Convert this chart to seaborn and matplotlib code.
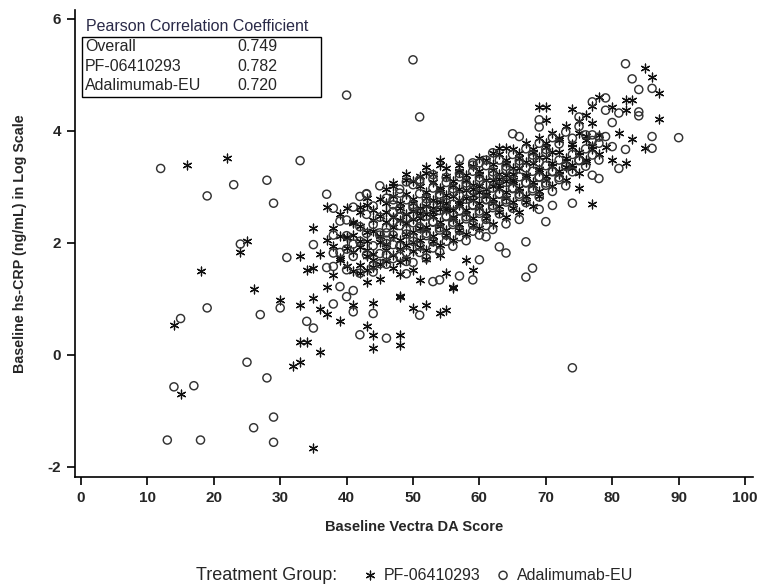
import pandas as pd
import matplotlib.pyplot as plt
import seaborn as sns

# Baseline Vectra DA score vs baseline hs-CRP (log scale)
pf_points = [
    (14, 0.54), (15, -0.70), (16, 3.39), (18, 1.50), (22, 3.52), (24, 1.83), (25, 2.04),
    (26, 1.18), (30, 0.98), (32, -0.20), (33, -0.12), (33, 0.23), (33, 0.90), (33, 1.77),
    (34, 0.23), (34, 1.52), (35, -1.66), (35, 1.01), (35, 1.55), (35, 2.26), (36, 0.05),
    (36, 0.82), (36, 1.80), (37, 0.73), (37, 1.22), (37, 2.05), (37, 2.65), (39, 0.61),
    (39, 1.73), (40, 2.11), (41, 0.89), (41, 2.38), (42, 1.46), (42, 2.65), (43, 0.51),
    (43, 1.30), (43, 2.80), (44, 0.12), (44, 0.35), (44, 0.93), (48, 0.18), (48, 0.36),
    (48, 1.04), (48, 1.05), (50, 0.84), (51, 1.34), (52, 0.89), (54, 0.74), (55, 0.81),
    (55, 1.46), (56, 1.20), (56, 1.21), (58, 1.70), (59, 1.52),
    (47, 3.07), (49, 3.13), (52, 3.25), (52, 3.36), (54, 3.39), (54, 3.48), (57, 3.27),
    (62, 3.60), (63, 3.69), (64, 3.69), (69, 4.43), (70, 4.43), (70, 4.20), (73, 3.36),
    (74, 4.40), (75, 4.17), (75, 3.25), (75, 2.98), (76, 4.29), (76, 3.45), (77, 4.45),
    (77, 2.70), (78, 4.60), (79, 3.72), (80, 4.43), (80, 3.48), (81, 3.96), (82, 4.55),
    (82, 4.37), (82, 3.43), (83, 4.55), (83, 3.85), (85, 5.12), (85, 3.70), (86, 4.96),
    (87, 4.67), (87, 4.21),
    (38, 1.95), (38, 2.27), (38, 1.42), (39, 2.12), (39, 1.69), (39, 2.51),
    (40, 2.08), (40, 1.58), (40, 1.91), (40, 2.63), (41, 2.36), (41, 1.83), (41, 2.14), (41, 1.49),
    (42, 2.03), (42, 1.92), (42, 2.55), (42, 1.61), (42, 2.31),
    (43, 1.87), (43, 1.76), (43, 2.67), (43, 2.19), (43, 1.51), (43, 2.04),
    (44, 2.22), (44, 1.81), (44, 2.59), (44, 1.70), (44, 2.41), (44, 1.57),
    (45, 2.13), (45, 2.01), (45, 2.78), (45, 2.49), (45, 1.63), (45, 1.36),
    (46, 2.37), (46, 1.98), (46, 2.71), (46, 1.88), (46, 2.55), (46, 1.68), (46, 2.97),
    (47, 2.29), (47, 2.12), (47, 2.47), (47, 1.79), (47, 2.83), (47, 1.55), (47, 3.02),
    (48, 2.41), (48, 2.06), (48, 1.89), (48, 2.71), (48, 2.63), (48, 1.66), (48, 1.44),
    (49, 2.51), (49, 2.16), (49, 1.97), (49, 2.88), (49, 2.35), (49, 1.72), (49, 3.24),
    (50, 2.57), (50, 2.19), (50, 2.01), (50, 2.79), (50, 2.72), (50, 1.85), (50, 2.43), (50, 1.52), (50, 3.11),
    (51, 2.44), (51, 2.26), (51, 2.05), (51, 3.01), (51, 2.62), (51, 1.92), (51, 2.53), (51, 3.19),
    (52, 2.66), (52, 2.29), (52, 2.23), (52, 2.91), (52, 2.81), (52, 1.87), (52, 2.51), (52, 1.71),
    (53, 2.55), (53, 2.48), (53, 2.12), (53, 3.09), (53, 2.76), (53, 2.03), (53, 2.62), (53, 3.24),
    (54, 2.73), (54, 2.38), (54, 2.31), (54, 2.98), (54, 2.94), (54, 1.96), (54, 2.61), (54, 1.79),
    (55, 2.62), (55, 2.58), (55, 2.24), (55, 3.19), (55, 2.86), (55, 2.14), (55, 2.71), (55, 3.33),
    (56, 2.84), (56, 2.47), (56, 2.42), (56, 3.11), (56, 3.03), (56, 2.05), (56, 2.59),
    (57, 2.72), (57, 2.68), (57, 2.33), (57, 3.29), (57, 2.96), (57, 2.24), (57, 2.77), (57, 3.39),
    (58, 2.94), (58, 2.59), (58, 2.52), (58, 3.21), (58, 3.12), (58, 2.16), (58, 2.81),
    (59, 2.86), (59, 2.77), (59, 2.44), (59, 3.37), (59, 3.04), (59, 2.32), (59, 2.96),
    (60, 3.02), (60, 2.71), (60, 2.63), (60, 3.29), (60, 3.24), (60, 2.26), (60, 2.91), (60, 3.52),
    (61, 2.97), (61, 2.87), (61, 2.53), (61, 3.48), (61, 3.13), (61, 2.44), (61, 2.83),
    (62, 3.13), (62, 2.79), (62, 2.72), (62, 3.41), (62, 3.31), (62, 2.34), (62, 3.01),
    (63, 3.04), (63, 2.98), (63, 2.66), (63, 3.58), (63, 3.23), (63, 2.55), (63, 3.14),
    (64, 3.22), (64, 2.91), (64, 2.81), (64, 3.49), (64, 3.43), (64, 2.46), (64, 3.11),
    (65, 3.13), (65, 3.08), (65, 2.74), (65, 3.67), (65, 3.33), (65, 2.63), (65, 3.24),
    (66, 3.33), (66, 2.99), (66, 2.93), (66, 3.61), (66, 3.52), (66, 2.55),
    (67, 3.22), (67, 3.18), (67, 2.84), (67, 3.78), (67, 3.45), (67, 2.73),
    (68, 3.43), (68, 3.09), (68, 3.03), (68, 3.68), (68, 3.63), (68, 2.66),
    (69, 3.32), (69, 3.28), (69, 2.93), (69, 3.88), (69, 3.53), (69, 2.84),
    (70, 3.53), (70, 3.19), (70, 3.13), (70, 3.79), (70, 3.72),
    (71, 3.43), (71, 3.38), (71, 3.02), (71, 3.97), (71, 3.62),
    (72, 3.62), (72, 3.29), (72, 3.23), (72, 3.88), (72, 3.83),
    (73, 3.52), (73, 3.47), (73, 3.12), (73, 4.08), (74, 3.72), (74, 3.39), (74, 3.33), (74, 3.76),
    (75, 3.63), (75, 3.57), (75, 3.96), (76, 3.83), (76, 3.49), (76, 3.91),
    (77, 3.73), (77, 3.68), (77, 4.14), (78, 3.93), (78, 3.58),
]

ada_points = [
    (12, 3.33), (13, -1.52), (14, -0.57), (15, 0.65), (17, -0.55), (18, -1.52), (19, 2.84),
    (19, 0.84), (23, 3.04), (24, 1.98), (25, -0.13), (26, -1.30), (27, 0.72), (28, 3.12),
    (28, -0.41), (29, 2.71), (29, -1.11), (29, -1.56), (30, 0.84), (31, 1.74), (33, 3.47),
    (34, 0.60), (35, 0.48), (35, 1.97), (37, 2.87), (37, 1.56), (38, 0.91), (38, 1.82),
    (38, 2.62), (39, 1.22), (40, 1.04), (40, 2.41), (40, 4.64), (41, 1.15), (41, 0.77),
    (42, 0.36), (43, 2.87), (44, 0.74), (46, 0.30), (50, 5.27), (51, 4.25), (51, 0.71),
    (74, -0.23), (49, 1.45), (53, 1.31), (54, 1.34), (57, 1.41), (59, 1.34), (60, 1.70),
    (61, 2.11), (63, 1.93), (64, 1.82), (67, 2.02), (67, 1.39), (68, 1.55), (69, 2.60),
    (70, 2.38), (71, 2.67), (74, 2.71), (77, 3.21), (78, 3.15), (78, 3.48), (81, 3.33),
    (46, 2.80), (47, 2.77), (48, 2.89), (49, 3.09), (51, 3.09), (53, 3.14), (47, 2.56),
    (45, 2.18), (46, 2.05), (46, 1.79), (57, 3.50), (59, 3.43), (60, 3.43), (61, 3.48),
    (65, 3.95), (66, 3.90), (69, 4.20), (69, 4.07), (75, 4.25), (77, 4.52), (77, 3.93),
    (79, 4.59), (79, 4.37), (79, 3.90), (80, 4.15), (80, 3.72), (81, 4.32), (82, 5.20),
    (82, 3.67), (83, 4.93), (84, 4.74), (84, 4.34), (84, 4.27), (86, 4.76), (86, 3.90),
    (86, 3.69), (90, 3.88),
    (38, 2.14), (38, 1.58), (39, 1.83), (39, 2.39), (40, 1.89), (40, 2.13), (40, 1.52),
    (41, 1.98), (41, 1.76), (41, 2.64), (42, 2.03), (42, 2.29), (42, 1.46), (42, 2.83),
    (43, 2.17), (43, 1.79), (43, 2.51), (43, 2.88), (44, 1.95), (44, 2.33), (44, 1.59), (44, 2.66), (44, 1.48),
    (45, 2.14), (45, 2.46), (45, 1.81), (45, 3.02), (45, 1.63),
    (46, 2.18), (46, 2.27), (46, 1.99), (46, 1.62), (47, 2.14), (47, 1.97), (47, 2.68), (47, 2.38), (47, 1.72),
    (48, 2.31), (48, 1.94), (48, 2.61), (48, 2.46), (48, 1.76), (48, 2.96),
    (49, 2.24), (49, 2.16), (49, 2.77), (49, 1.83), (49, 2.45), (49, 1.67),
    (50, 2.36), (50, 2.09), (50, 2.68), (50, 2.03), (50, 2.63), (50, 3.04), (50, 1.65),
    (51, 2.29), (51, 2.26), (51, 2.88), (51, 1.94), (51, 2.54), (51, 1.83), (51, 3.13),
    (52, 2.48), (52, 2.17), (52, 2.79), (52, 2.13), (52, 2.71), (52, 1.73),
    (53, 2.37), (53, 2.38), (53, 2.98), (53, 2.02), (53, 2.66), (53, 1.91), (53, 3.22),
    (54, 2.58), (54, 2.27), (54, 2.87), (54, 2.23), (54, 2.83), (54, 1.84),
    (55, 2.47), (55, 2.48), (55, 3.08), (55, 2.14), (55, 2.72), (55, 2.03), (55, 3.17),
    (56, 2.69), (56, 2.37), (56, 2.97), (56, 2.33), (56, 2.91), (56, 1.94),
    (57, 2.57), (57, 2.58), (57, 3.18), (57, 2.22), (57, 2.84), (57, 2.11), (57, 3.24),
    (58, 2.78), (58, 2.47), (58, 3.07), (58, 2.43), (58, 3.01), (58, 2.04),
    (59, 2.67), (59, 2.68), (59, 3.28), (59, 2.32), (59, 2.94), (59, 2.21), (59, 3.39),
    (60, 2.88), (60, 2.57), (60, 3.17), (60, 2.53), (60, 3.11), (60, 2.14),
    (61, 2.77), (61, 2.78), (61, 3.38), (61, 2.42), (61, 3.04), (61, 2.31),
    (62, 2.98), (62, 2.67), (62, 3.27), (62, 2.63), (62, 3.21), (62, 2.24), (62, 3.61),
    (63, 2.87), (63, 2.88), (63, 3.48), (63, 2.52), (63, 3.14),
    (64, 3.08), (64, 2.77), (64, 3.37), (64, 2.73), (64, 3.31), (64, 2.34),
    (65, 2.97), (65, 2.98), (65, 3.58), (65, 2.62), (65, 3.24),
    (66, 3.18), (66, 2.87), (66, 3.47), (66, 2.83), (66, 3.41), (66, 2.42),
    (67, 3.07), (67, 3.08), (67, 3.68), (67, 2.72), (67, 3.34),
    (68, 3.28), (68, 2.97), (68, 3.57), (68, 2.93), (68, 3.51),
    (69, 3.17), (69, 3.18), (69, 3.78), (69, 2.82), (69, 3.44),
    (70, 3.38), (70, 3.07), (70, 3.67), (70, 3.03), (70, 3.61),
    (71, 3.27), (71, 3.28), (71, 3.88), (71, 2.92), (72, 3.48), (72, 3.17), (72, 3.77), (72, 3.13),
    (73, 3.37), (73, 3.38), (73, 3.98), (73, 3.02), (74, 3.58), (74, 3.27), (74, 3.87),
    (75, 3.47), (75, 3.48), (75, 4.08), (76, 3.68), (76, 3.37), (76, 3.93),
    (77, 3.57), (77, 3.83), (78, 3.78), (78, 3.89),
]

groups = ['PF-06410293', 'Adalimumab-EU']
corr_labels = ['Overall', 'PF-06410293', 'Adalimumab-EU']
corr_values = ['0.749', '0.782', '0.720']
x_ticks = [0, 10, 20, 30, 40, 50, 60, 70, 80, 90, 100]
y_ticks = [-2, 0, 2, 4, 6]

pf_df = pd.DataFrame(pf_points, columns=['score', 'crp'])
ada_df = pd.DataFrame(ada_points, columns=['score', 'crp'])

sns.set_style('white')
plt.rcParams['font.family'] = ['Liberation Sans', 'DejaVu Sans']
plt.rcParams['axes.unicode_minus'] = False

fig = plt.figure(figsize=(7.61, 5.85), dpi=100)
ax = fig.add_axes([75 / 761, 108 / 585, 678 / 761, 467 / 585])

sns.scatterplot(data=pf_df, x='score', y='crp', ax=ax, marker=(6, 2, 0), s=40,
                color='#111111', linewidth=0.9, label=groups[0])
sns.scatterplot(data=ada_df, x='score', y='crp', ax=ax, marker='o', s=34,
                facecolor='none', edgecolor='#333333', linewidth=1.05, label=groups[1])

ax.set_xlim(-0.9, 101.2)
ax.set_ylim(-2.18, 6.16)
ax.set_xticks(x_ticks)
ax.set_yticks(y_ticks)
ax.tick_params(axis='both', direction='out', length=6, width=1.2, labelsize=11,
               left=True, bottom=True, color='black', pad=4)
for lab in ax.get_xticklabels() + ax.get_yticklabels():
    lab.set_fontweight('bold')
for side in ['top', 'right']:
    ax.spines[side].set_visible(False)
for side in ['left', 'bottom']:
    ax.spines[side].set_color('black')
    ax.spines[side].set_linewidth(1.2)

ax.set_xlabel('Baseline Vectra DA Score', fontsize=10.5, fontweight='bold', labelpad=11)
ax.set_ylabel('Baseline hs-CRP (ng/mL) in Log Scale', fontsize=10.3, fontweight='bold',
              labelpad=15)

# correlation inset
ax.text(0.016, 0.964, 'Pearson Correlation Coefficient', transform=ax.transAxes,
        fontsize=11.5, color='#2a2a48', va='center')
box = plt.Rectangle((0.0103, 0.814), 0.353, 0.128, transform=ax.transAxes,
                    fill=False, edgecolor='black', linewidth=1.0)
ax.add_patch(box)
for yy, lab, val in zip([0.921, 0.878, 0.839], corr_labels, corr_values):
    ax.text(0.0147, yy, lab, transform=ax.transAxes, fontsize=11.5, va='center')
    ax.text(0.239, yy, val, transform=ax.transAxes, fontsize=11.5, va='center')

# legend at bottom
fig.text(337 / 761, 1 - 576 / 585, 'Treatment Group:', fontsize=13, ha='right',
         va='center')
ax.legend(loc='center left', bbox_to_anchor=(352 / 761, 1 - 575 / 585),
          bbox_transform=fig.transFigure, ncol=2, frameon=False, fontsize=11.5,
          handletextpad=0.3, columnspacing=0.8, handlelength=1.2, borderpad=0)

fig.savefig('out.png', dpi=100)
